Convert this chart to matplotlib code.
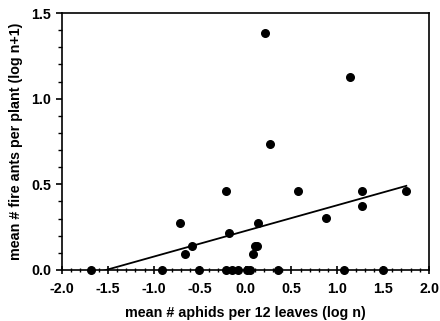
import numpy as np
import matplotlib
matplotlib.use("Agg")
import matplotlib.pyplot as plt
from matplotlib.ticker import MultipleLocator, FormatStrFormatter

# --- data ---
aphids = [-1.688, -0.907, -0.508, -0.218, -0.145, -0.087, 0.011, 0.054, 0.356, 1.071, 1.499,
          0.214, 1.140, 0.272, -0.218, 0.574, 1.270, 1.753, 1.274, 0.882, -0.711, 0.131,
          -0.178, -0.588, -0.664, 0.102, 0.127, 0.083]
ants = [0.0, 0.0, 0.0, 0.0, 0.0, 0.0, 0.0, 0.0, 0.0, 0.0, 0.0,
        1.383, 1.129, 0.734, 0.460, 0.460, 0.460, 0.460, 0.375, 0.301, 0.276, 0.276,
        0.214, 0.138, 0.095, 0.138, 0.138, 0.095]

# regression line (intercept, slope)
fit_b0 = 0.228
fit_b1 = 0.150

plt.rcParams['font.family'] = ['Liberation Sans', 'DejaVu Sans']
plt.rcParams['font.weight'] = 'bold'

fig = plt.figure(figsize=(4.4, 3.21), dpi=100)
ax = fig.add_axes([0.141, 0.159, 0.834, 0.8005])

ax.scatter(aphids, ants, s=30, color='black', zorder=3, clip_on=False)
xs = np.array([min(aphids), max(aphids)])
ax.plot(xs, fit_b0 + fit_b1 * xs, color='black', lw=1.3)

ax.set_xlim(-2.0, 2.0)
ax.set_ylim(0.0, 1.5)
ax.xaxis.set_major_locator(MultipleLocator(0.5))
ax.xaxis.set_minor_locator(MultipleLocator(0.1))
ax.yaxis.set_major_locator(MultipleLocator(0.5))
ax.yaxis.set_minor_locator(MultipleLocator(0.1))
ax.xaxis.set_major_formatter(FormatStrFormatter('%.1f'))
ax.yaxis.set_major_formatter(FormatStrFormatter('%.1f'))

ax.tick_params(axis='x', which='major', direction='inout', length=6, width=1.2, labelsize=10.3, pad=6)
ax.tick_params(axis='x', which='minor', direction='inout', length=3, width=1.0)
ax.tick_params(axis='y', which='major', direction='out', length=4, width=1.2, labelsize=10.3, pad=4)
ax.tick_params(axis='y', which='minor', direction='out', length=3, width=1.0)
for sp in ax.spines.values():
    sp.set_linewidth(1.2)

ax.set_xlabel('mean # aphids per 12 leaves (log n)', fontsize=10.3, fontweight='bold', labelpad=7)
ax.set_ylabel('mean # fire ants per plant (log n+1)', fontsize=10.3, fontweight='bold', labelpad=6)

fig.savefig('out.png', dpi=100)
